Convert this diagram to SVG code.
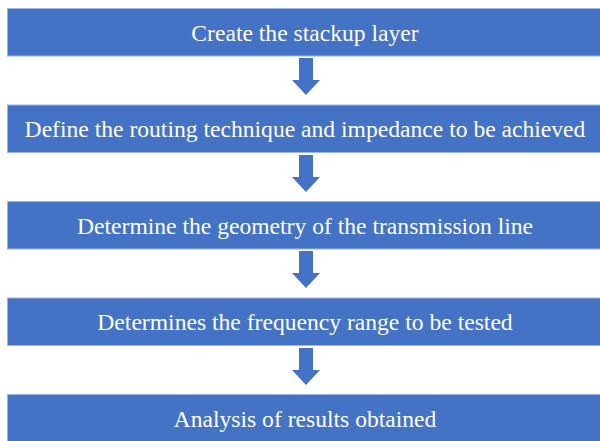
<svg xmlns="http://www.w3.org/2000/svg" width="600" height="441" viewBox="0 0 600 441">
<defs>
<style>
.box{fill:#4472C4;stroke:#9DB4E0;stroke-width:1}
.lbl{font-family:"Liberation Serif","Times New Roman",serif;font-size:23.6px;fill:#FFFFFF;text-anchor:middle}
.arr{fill:#4472C4}
</style>
<path id="dn" d="M299,0 H313 V22 H320 L306,37 L292,22 H299 Z"/>
</defs>
<rect width="600" height="441" fill="#FFFFFF"/>
<g id="connectors" class="arr">
<use href="#dn" y="58"/>
<use href="#dn" y="155"/>
<use href="#dn" y="251"/>
<use href="#dn" y="348"/>
</g>
<g id="n1"><rect class="box" x="7.5" y="8.5" width="600" height="47.5"/><text class="lbl" x="305" y="40.5">Create the stackup layer</text></g>
<g id="n2"><rect class="box" x="7.5" y="105" width="600" height="47.5"/><text class="lbl" x="305" y="137">Define the routing technique and impedance to be achieved</text></g>
<g id="n3"><rect class="box" x="7.5" y="201.5" width="600" height="47.5"/><text class="lbl" x="305" y="233.5">Determine the geometry of the transmission line</text></g>
<g id="n4"><rect class="box" x="7.5" y="298" width="600" height="47.5"/><text class="lbl" x="305" y="330">Determines the frequency range to be tested</text></g>
<g id="n5"><rect class="box" x="7.5" y="394.5" width="600" height="50"/><text class="lbl" x="305" y="426.5">Analysis of results obtained</text></g>
</svg>
